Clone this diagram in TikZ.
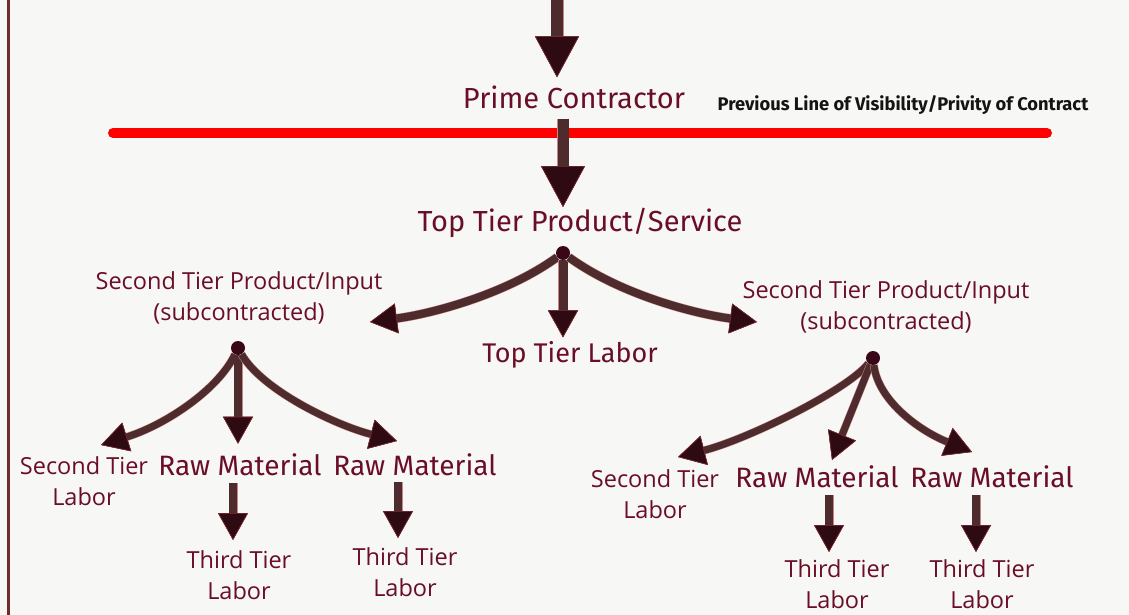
\documentclass[tikz,border=0pt]{standalone}
\usepackage{fontspec}
\setmainfont{Fira Sans}
\newfontfamily\osans{Open Sans}
\usetikzlibrary{arrows.meta}
\definecolor{bgc}{HTML}{F7F7F5}
\definecolor{txt}{HTML}{6A0E28}
\definecolor{shaftc}{HTML}{4E2C2E}
\definecolor{tipc}{HTML}{2E0B12}
\definecolor{glowc}{HTML}{C98585}
\definecolor{tipedge}{HTML}{7A2A30}
\definecolor{borderc}{HTML}{6E2E2E}
\definecolor{dotc}{HTML}{3A0718}
\tikzset{
  lbl/.style={text=txt, inner sep=0pt, align=center},
  big/.style={lbl, font=\fontsize{29}{34}\selectfont},
  raw/.style={lbl, font=\fontsize{28}{32}\selectfont},
  small/.style={lbl, font=\osans\fontsize{23.5}{31}\selectfont},
  conn/.style={draw=shaftc, line width=#1, preaction={draw=glowc, line width=#1+1pt}},
  bigtip/.style={-{Triangle[width=44pt,length=41pt,line width=0.6pt,color=tipedge,fill=tipc]}},
  tip/.style={-{Triangle[width=30pt,length=27pt,line width=0.6pt,color=tipedge,fill=tipc]}},
  dotnode/.style={circle, fill=dotc, inner sep=0pt, minimum size=14pt},
}
\begin{document}
\begin{tikzpicture}[x=1pt,y=-1pt]
\fill[bgc] (0,0) rectangle (1129,615);
\useasboundingbox (0,0) rectangle (1129,615);
\draw[borderc, line width=2.5pt] (8.5,-1) -- (8.5,616);

% top
\coordinate (topin) at (557,-2);
\node[big] (prime) at (574,97) {Prime Contractor};
\coordinate (redL) at (113,133);
\coordinate (redR) at (1047,133);
\draw[red, line width=10pt, line cap=round] (redL) -- (redR);
\node[lbl, text=black!92, font=\bfseries\fontsize{18.3}{21}\selectfont] (prev) at (903,105) {Previous Line of Visibility/Privity of Contract};
\node[big] (tier1) at (580,223) {Top Tier Product/Service};
\node[dotnode] (dot1) at (563,253) {};
\node[lbl, font=\fontsize{27}{32}\selectfont] (labor1) at (570,355) {Top Tier Labor};

\draw[conn=12pt, bigtip, shorten >=8pt] (topin) -- (topin |- prime.north);
\draw[conn=11pt, bigtip, shorten <=10pt, shorten >=1pt] (prime.south -| dot1) -- (tier1.north -| dot1);

\coordinate (b1) at (370,322);
\coordinate (b3) at (757,322);
\draw[conn=8pt, tip] (dot1) .. controls (505,295) and (430,314) .. (b1);
\draw[conn=9pt, tip, shorten >=4pt] (dot1) -- (dot1 |- labor1.north);
\draw[conn=8pt, tip] (dot1) .. controls (621,295) and (696,314) .. (b3);

% left cluster
\node[small] (sp1) at (239,298) {Second Tier Product/Input\\(subcontracted)};
\node[dotnode] (dot2) at (238,348) {};
\node[small] (stl1) at (84,481) {Second Tier\\Labor};
\node[raw] (rm1) at (240,465) {Raw Material};
\node[raw] (rm2) at (415,465) {Raw Material};
\node[small] (tt1) at (239,575) {Third Tier\\Labor};
\node[small] (tt2) at (405,572) {Third Tier\\Labor};
\coordinate (c1) at (101,445);
\coordinate (c2) at (397,441);
\draw[conn=7pt, tip] (dot2) .. controls (218,390) and (165,425) .. (c1);
\draw[conn=8pt, tip, shorten >=10pt] (dot2) -- (dot2 |- rm1.north);
\draw[conn=7pt, tip] (dot2) .. controls (262,390) and (335,425) .. (c2);
\coordinate (r1a) at (233,483);
\coordinate (r1b) at (233,540);
\coordinate (r2a) at (398,482);
\coordinate (r2b) at (398,538);
\draw[conn=8pt, tip] (r1a) -- (r1b);
\draw[conn=8pt, tip] (r2a) -- (r2b);

% right cluster
\node[small] (sp2) at (886,307) {Second Tier Product/Input\\(subcontracted)};
\node[dotnode] (dot3) at (873,358) {};
\node[small] (stl2) at (655,494) {Second Tier\\Labor};
\node[raw] (rm3) at (817,477) {Raw Material};
\node[raw] (rm4) at (992,477) {Raw Material};
\node[small] (tt3) at (837,584) {Third Tier\\Labor};
\node[small] (tt4) at (982,584) {Third Tier\\Labor};
\coordinate (d1) at (678,457);
\coordinate (d2) at (832,460);
\coordinate (d3) at (972,452);
\draw[conn=7pt, tip] (dot3) .. controls (845,392) and (745,440) .. (d1);
\draw[conn=7pt, tip] (dot3) -- (d2);
\draw[conn=7pt, tip] (dot3) .. controls (878,400) and (918,430) .. (d3);
\coordinate (r3a) at (829,495);
\coordinate (r3b) at (829,552);
\coordinate (r4a) at (976,495);
\coordinate (r4b) at (976,552);
\draw[conn=8pt, tip] (r3a) -- (r3b);
\draw[conn=8pt, tip] (r4a) -- (r4b);
\end{tikzpicture}
\end{document}
